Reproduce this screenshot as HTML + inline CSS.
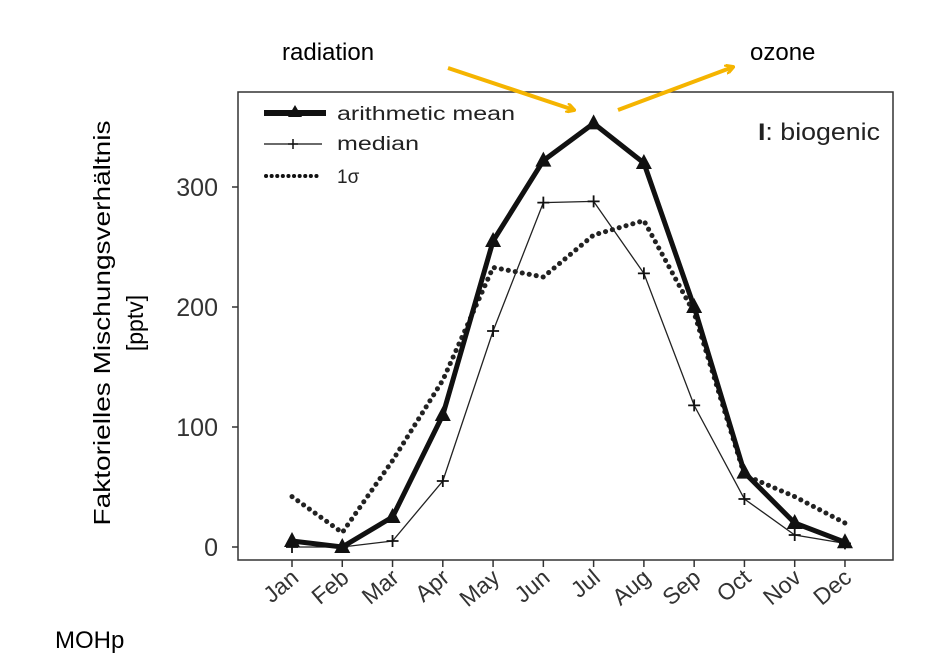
<!DOCTYPE html>
<html><head><meta charset="utf-8"><style>
body{margin:0;background:#fff;}
svg text{font-family:"Liberation Sans",sans-serif;}
</style></head><body>
<svg width="935" height="662" xmlns="http://www.w3.org/2000/svg">
<defs>
<marker id="ah" markerWidth="10" markerHeight="10" refX="8" refY="5" orient="auto" markerUnits="userSpaceOnUse"><path d="M0,0 L9,5 L0,10" fill="none" stroke="#f5b400" stroke-width="3"/></marker>
</defs>
<rect x="238" y="92" width="655" height="468" fill="none" stroke="#333" stroke-width="1.5"/>
<g id="g"></g>
<text x="282" y="60" font-size="24">radiation</text>
<text x="750" y="60" font-size="24">ozone</text>
<line x1="448" y1="68" x2="574" y2="110" stroke="#f5b400" stroke-width="4" marker-end="url(#ah)"/>
<line x1="618" y1="110" x2="733" y2="67" stroke="#f5b400" stroke-width="4" marker-end="url(#ah)"/>
<text x="758" y="140" font-size="24" textLength="122" lengthAdjust="spacingAndGlyphs" fill="#222"><tspan font-weight="bold">I</tspan>: biogenic</text>
<text transform="translate(110,323) rotate(-90)" text-anchor="middle" font-size="23" textLength="405" lengthAdjust="spacingAndGlyphs">Faktorielles Mischungsverhältnis</text>
<text transform="translate(143,323) rotate(-90)" text-anchor="middle" font-size="23">[pptv]</text>
<text x="55" y="648" font-size="24">MOHp</text>
<g>
<line x1="264" y1="113" x2="326" y2="113" stroke="#111" stroke-width="6"/><path d="M295,105 L302,117 L288,117Z" fill="#111"/>
<text x="337" y="120" font-size="19" textLength="178" lengthAdjust="spacingAndGlyphs" fill="#222">arithmetic mean</text>
<line x1="264" y1="144" x2="322" y2="144" stroke="#111" stroke-width="1.2"/><path d="M293,139V149M288,144H298" stroke="#111" stroke-width="1.5"/>
<text x="337" y="150" font-size="19" textLength="82" lengthAdjust="spacingAndGlyphs" fill="#222">median</text>
<line x1="266" y1="176" x2="322" y2="176" stroke="#111" stroke-width="4" stroke-dasharray="0.1 5.5" stroke-linecap="round"/>
<text x="337" y="183" font-size="19" font-family="Liberation Serif" fill="#222">1σ</text>
</g>
</svg>
<script>
const months=["Jan","Feb","Mar","Apr","May","Jun","Jul","Aug","Sep","Oct","Nov","Dec"];
const meanVals=[5,0,25,110,255,322,353,320,200,62,20,4];
const medianVals=[0,0,5,55,180,287,288,228,118,40,10,3];
const sigmaVals=[42,12,72,139,233,225,260,272,195,60,42,20];
const yTicks=[0,100,200,300];
const X=i=>292+i*50.27, Y=v=>547-v*1.2;
const g=document.getElementById('g'),NS="http://www.w3.org/2000/svg";
function mk(t,a,p){const e=document.createElementNS(NS,t);for(const k in a)e.setAttribute(k,a[k]);(p||g).appendChild(e);return e;}
yTicks.forEach(v=>{
 const l=mk('line',{x1:232,x2:238,y1:Y(v),y2:Y(v),stroke:'#333','stroke-width':1.5});
 
 
 const t=mk('text',{x:218,y:Y(v)+9,'text-anchor':'end','font-size':25,fill:'#333'});t.textContent=v;
 
 
});
months.forEach((m,i)=>{
 const l=mk('line',{x1:X(i),x2:X(i),y1:560,y2:567,stroke:'#333','stroke-width':1.5});
 
 
 const t=mk('text',{'text-anchor':'end','font-size':23,fill:'#333',transform:`translate(${X(i)+8},${580}) rotate(-40)`});t.textContent=m;
 
 
});
const pts=a=>a.map((v,i)=>X(i)+','+Y(v)).join(' ');
const s=mk('polyline',{points:pts(sigmaVals),fill:'none',stroke:'#222','stroke-width':5,'stroke-dasharray':'0.1 7','stroke-linecap':'round'});


const md=mk('polyline',{points:pts(medianVals),fill:'none',stroke:'#222','stroke-width':1.3});


medianVals.forEach((v,i)=>{
 const p=mk('path',{d:`M${X(i)},${Y(v)-6}V${Y(v)+6}M${X(i)-6},${Y(v)}H${X(i)+6}`,stroke:'#111','stroke-width':1.8});
 
 
});
const mn=mk('polyline',{points:pts(meanVals),fill:'none',stroke:'#111','stroke-width':5,'stroke-linejoin':'round'});


meanVals.forEach((v,i)=>{
 const x=X(i),y=Y(v);
 const p=mk('path',{d:`M${x},${y-9}L${x+8},${y+6}L${x-8},${y+6}Z`,fill:'#111'});
 
 
});
</script>
</body></html>
